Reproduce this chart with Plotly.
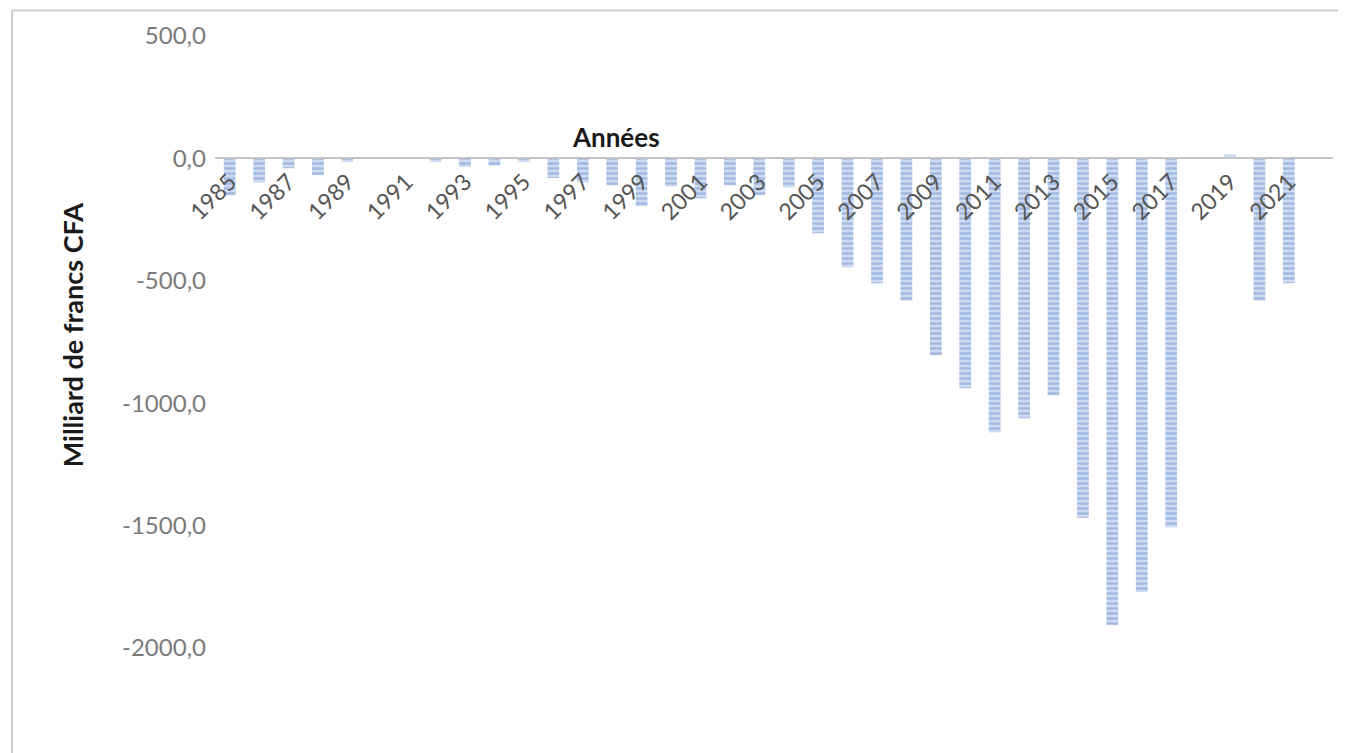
import plotly.graph_objects as go

# ---- data ----
years = list(range(1985, 2023))
values = [-150, -98, -40, -68, -15, 0, 0, -15, -35, -30,
          -15, -80, -98, -110, -195, -115, -163, -110, -150, -118,
          -306, -445, -510, -580, -804, -939, -1118, -1061, -967, -1469,
          -1906, -1771, -1506, 0, 16, -580, -510, None]
tick_years = list(range(1985, 2022, 2))
tick_labels = [str(y) for y in tick_years]
y_ticks = [500, 0, -500, -1000, -1500, -2000]
y_tick_labels = ["500,0", "0,0", "-500,0", "-1000,0", "-1500,0", "-2000,0"]

# ---- geometry (page body has an 8px default margin) ----
OFF = 8
W, H = 1346 - OFF, 753 - OFF
left, right_px = 215 - OFF, 1333 - OFF
top_px = 35.5 - OFF
px_per_unit = 122.5 / 500.0
y_max = 500
y_min = y_max - (H - top_px) / px_per_unit
zero_frac = (0 - y_min) / (y_max - y_min)

def px_to_paper_x(px):
    return (px - OFF - left) / (right_px - left)

def px_to_paper_y(py):
    return (H - (py - OFF)) / (H - top_px)

fig = go.Figure()
fig.add_trace(go.Bar(
    x=years, y=values,
    marker=dict(
        color="#bccdeb",
        line=dict(width=0),
        pattern=dict(shape="-", fgcolor="#7797d2", bgcolor="#cfdbf1",
                     size=5, solidity=0.5, fillmode="overlay"),
    ),
    showlegend=False,
))

fig.update_layout(
    width=W, height=H,
    margin=dict(l=left, r=W - right_px, t=top_px, b=0, pad=0),
    paper_bgcolor="white", plot_bgcolor="white",
    bargap=0.6,
    font=dict(family="Lato, 'Open Sans', sans-serif"),
    xaxis=dict(
        range=[1984.5, 2022.5],
        tickmode="array", tickvals=tick_years, ticktext=tick_labels,
        tickangle=-45,
        tickfont=dict(size=23, color="#555555"),
        showgrid=False, zeroline=False,
        showline=True, linecolor="#c4c4c4", linewidth=2,
        ticks="",
        anchor="free", position=zero_frac,
    ),
    yaxis=dict(
        range=[y_min, y_max],
        tickmode="array", tickvals=y_ticks, ticktext=y_tick_labels,
        tickfont=dict(size=24, color="#7a7a7a"),
        showgrid=False, zeroline=False, showline=False,
        ticks="", ticklabelstandoff=8,
    ),
    annotations=[
        dict(text="<b>Années</b>", xref="paper", yref="paper",
             x=px_to_paper_x(616), y=px_to_paper_y(137),
             xanchor="center", yanchor="middle", showarrow=False,
             font=dict(size=26, color="#1a1a1a")),
        dict(text="<b>Milliard de francs CFA</b>", xref="paper", yref="paper",
             x=px_to_paper_x(72), y=px_to_paper_y(335), textangle=-90,
             xanchor="center", yanchor="middle", showarrow=False,
             font=dict(size=27, color="#1a1a1a")),
    ],
    shapes=[
        dict(type="line", xref="paper", yref="paper",
             x0=px_to_paper_x(12), x1=px_to_paper_x(12),
             y0=px_to_paper_y(10), y1=px_to_paper_y(760),
             line=dict(color="#cfcfcf", width=2)),
        dict(type="line", xref="paper", yref="paper",
             x0=px_to_paper_x(12), x1=px_to_paper_x(1352),
             y0=px_to_paper_y(10), y1=px_to_paper_y(10),
             line=dict(color="#cfcfcf", width=2)),
    ],
)

fig.write_html("out.html")
